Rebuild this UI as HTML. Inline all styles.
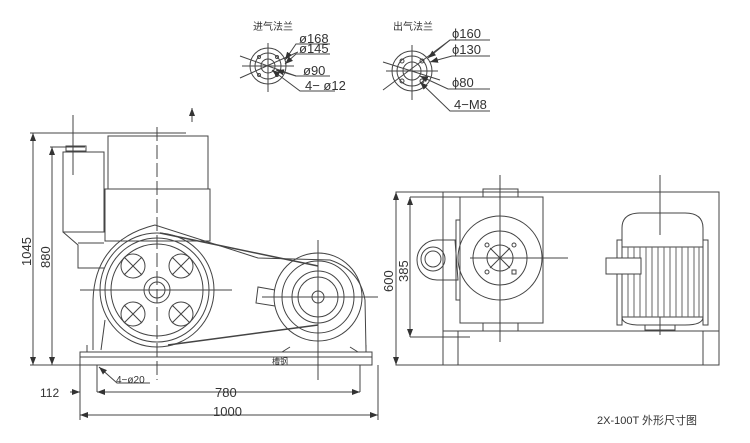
<!DOCTYPE html>
<html><head><meta charset="utf-8"><style>
html,body{margin:0;padding:0;background:#fff;width:750px;height:443px;overflow:hidden}
svg{display:block}
text{font-family:"Liberation Sans","Noto Sans CJK SC",sans-serif;fill:#333}
</style></head><body>
<svg width="750" height="443" viewBox="0 0 750 443" xmlns="http://www.w3.org/2000/svg">
<defs><marker id="a" markerWidth="8" markerHeight="6" refX="8" refY="3" orient="auto-start-reverse"><path d="M0,0 L8,3 L0,6 Z" fill="#333"/></marker></defs>
<g stroke="#444" stroke-width="1" fill="none">
<!-- inlet flange -->
<circle cx="268" cy="66" r="18"/><circle cx="268" cy="66" r="13"/><circle cx="268" cy="66" r="7"/>
<line x1="268" y1="43" x2="268" y2="92"/><line x1="242" y1="66" x2="294" y2="66"/>
<line x1="240" y1="78" x2="298" y2="52"/><line x1="240" y1="56" x2="296" y2="76"/>
<circle cx="259" cy="57" r="1.5"/><circle cx="277" cy="57" r="1.5"/><circle cx="259" cy="75" r="1.5"/><circle cx="277" cy="75" r="1.5"/>
<polyline points="330,44 296,44 285,60" marker-end="url(#a)"/><polyline points="330,54 296,54 285,64" marker-end="url(#a)"/><polyline points="330,76 296,76 276,70" marker-end="url(#a)"/><polyline points="335,91 300,91 272,70" marker-end="url(#a)"/>
<!-- outlet flange -->
<circle cx="412" cy="71" r="20"/><circle cx="412" cy="71" r="15"/><circle cx="412" cy="71" r="9"/>
<line x1="412" y1="45" x2="412" y2="100"/><line x1="386" y1="71" x2="438" y2="71"/>
<line x1="383" y1="90" x2="450" y2="40"/><line x1="383" y1="62" x2="440" y2="80"/>
<circle cx="402" cy="61" r="2"/><circle cx="422" cy="61" r="2"/><circle cx="402" cy="81" r="2"/><circle cx="422" cy="81" r="2"/>
<polyline points="490,40 450,40 428,58" marker-end="url(#a)"/><polyline points="490,56 452,56 430,62" marker-end="url(#a)"/><polyline points="490,89 448,89 420,76" marker-end="url(#a)"/><polyline points="490,111 450,111 420,82" marker-end="url(#a)"/>
<!-- left view dims -->
<line x1="30" y1="133" x2="185" y2="133"/><line x1="33" y1="133" x2="33" y2="365" marker-start="url(#a)" marker-end="url(#a)"/>
<line x1="50" y1="147" x2="85" y2="147"/><line x1="52" y1="147" x2="52" y2="365" marker-start="url(#a)" marker-end="url(#a)"/>
<line x1="30" y1="365" x2="90" y2="365"/>
<line x1="73" y1="115" x2="73" y2="175"/><line x1="192" y1="122" x2="192" y2="108" marker-end="url(#a)"/>
<!-- tank -->
<rect x="108" y="136" width="100" height="53"/><rect x="105" y="189" width="105" height="52"/>
<line x1="129" y1="133" x2="186" y2="133"/>
<rect x="63" y="152" width="41" height="80"/><rect x="66" y="146" width="20" height="5"/>
<polyline points="63,232 78,245 78,268 104,268"/><line x1="78" y1="243" x2="104" y2="243"/>
<!-- housing -->
<path d="M93,350 L93,300 Q95,240 155,225 L258,258 L330,260 Q360,270 365,300 L366,350"/>
<path d="M101,350 L105,320"/>
<!-- big pulley -->
<circle cx="157" cy="290" r="57"/><circle cx="157" cy="290" r="52"/><circle cx="157" cy="290" r="46"/>
<circle cx="157" cy="290" r="13"/><circle cx="157" cy="290" r="8"/>
<circle cx="133" cy="266" r="12"/><circle cx="181" cy="266" r="12"/><circle cx="133" cy="314" r="12"/><circle cx="181" cy="314" r="12"/>
<path d="M124,257 L142,275 M142,257 L124,275 M172,257 L190,275 M190,257 L172,275 M124,305 L142,323 M142,305 L124,323 M172,305 L190,323 M190,305 L172,323"/>
<line x1="157" y1="127" x2="157" y2="380" stroke-dasharray="14,4"/>
<line x1="80" y1="290" x2="232" y2="290"/>
<!-- belt -->
<line x1="160" y1="233" x2="318" y2="266" stroke-width="1.5"/><line x1="168" y1="345" x2="318" y2="325" stroke-width="1.5"/>
<!-- small pulley -->
<circle cx="318" cy="297" r="44"/><circle cx="318" cy="297" r="36"/><circle cx="318" cy="297" r="26"/><circle cx="318" cy="297" r="20"/><circle cx="318" cy="297" r="6"/>
<line x1="318" y1="240" x2="318" y2="380"/><line x1="262" y1="297" x2="378" y2="297"/>
<path d="M275,290 L258,287 L256,303 L275,306"/>
<path d="M290,347 L282,352 M350,347 L358,352"/>
<!-- base -->
<rect x="80" y="352" width="292" height="13"/><line x1="80" y1="357" x2="372" y2="357"/>
<line x1="87" y1="345" x2="87" y2="352"/><line x1="366" y1="345" x2="366" y2="352"/>
<line x1="97" y1="365" x2="97" y2="392"/><line x1="360" y1="365" x2="360" y2="392"/>
<line x1="80" y1="365" x2="80" y2="420"/><line x1="378" y1="365" x2="378" y2="420"/>
<line x1="70" y1="392" x2="80" y2="392" marker-end="url(#a)"/>
<line x1="97" y1="392" x2="360" y2="392" marker-start="url(#a)" marker-end="url(#a)"/>
<line x1="80" y1="415" x2="378" y2="415" marker-start="url(#a)" marker-end="url(#a)"/>
<polyline points="150,383 117,383 99,367" marker-end="url(#a)"/>
<!-- right view -->
<rect x="396" y="192" width="323" height="173"/>
<line x1="443" y1="192" x2="443" y2="365"/><line x1="458" y1="331" x2="458" y2="365"/>
<line x1="443" y1="331" x2="719" y2="331"/><line x1="703" y1="331" x2="703" y2="365"/>
<rect x="460" y="197" width="83" height="126"/>
<rect x="483" y="189" width="35" height="8"/><rect x="483" y="323" width="35" height="8"/>
<line x1="500" y1="175" x2="500" y2="342"/><line x1="470" y1="258" x2="568" y2="258"/>
<circle cx="500" cy="258" r="42"/><circle cx="500" cy="258" r="27"/><circle cx="500" cy="258" r="13"/>
<line x1="490" y1="248" x2="510" y2="268"/><line x1="510" y1="248" x2="490" y2="268"/>
<circle cx="487" cy="245" r="2"/><circle cx="514" cy="245" r="2"/><circle cx="487" cy="272" r="2"/><rect x="512" y="270" width="4" height="4"/>
<rect x="456" y="220" width="4" height="80"/>
<path d="M437,240 L455,240 L458,280 L437,280 A20,20 0 0 1 437,240 Z"/>
<circle cx="433" cy="259" r="12"/><circle cx="433" cy="259" r="8"/>
<line x1="410" y1="197" x2="470" y2="197"/><line x1="410" y1="337" x2="470" y2="337"/>
<line x1="410" y1="197" x2="410" y2="337" marker-start="url(#a)" marker-end="url(#a)"/><line x1="396" y1="192" x2="396" y2="365" marker-start="url(#a)" marker-end="url(#a)"/>
<!-- motor -->
<path d="M622,247 L622,228 Q622,213 640,213 L685,213 Q703,213 703,228 L703,247"/>
<rect x="622" y="247" width="81" height="70"/>
<path d="M622,317 Q622,325 640,325 L685,325 Q703,325 703,317"/>
<rect x="617" y="240" width="5" height="85"/><rect x="703" y="240" width="5" height="85"/>
<g stroke="#666"><line x1="628" y1="247" x2="628" y2="317"/><line x1="634" y1="247" x2="634" y2="317"/><line x1="640" y1="247" x2="640" y2="317"/><line x1="646" y1="247" x2="646" y2="317"/><line x1="652" y1="247" x2="652" y2="317"/><line x1="658" y1="247" x2="658" y2="317"/><line x1="664" y1="247" x2="664" y2="317"/><line x1="670" y1="247" x2="670" y2="317"/><line x1="676" y1="247" x2="676" y2="317"/><line x1="682" y1="247" x2="682" y2="317"/><line x1="688" y1="247" x2="688" y2="317"/><line x1="694" y1="247" x2="694" y2="317"/><line x1="699" y1="247" x2="699" y2="317"/></g>
<rect x="606" y="258" width="35" height="16" fill="#fff"/>
<line x1="660" y1="175" x2="660" y2="235"/><line x1="660" y1="317" x2="660" y2="335"/>
<rect x="645" y="325" width="30" height="5"/>
</g>
<g font-size="12" fill="#333">
<text x="-266" y="31" transform="rotate(-90)" font-size="13">1045</text>
<text x="-268" y="50" transform="rotate(-90)" font-size="13">880</text>
<text x="40" y="397">112</text>
<text x="215" y="397" font-size="13">780</text>
<text x="213" y="416" font-size="13">1000</text>
<text x="116" y="383" font-size="10">4−ø20</text>
<text x="-292" y="393" transform="rotate(-90)" font-size="13">600</text>
<text x="-282" y="408" transform="rotate(-90)" font-size="13">385</text>
<text x="299" y="43" font-size="13">ø168</text>
<text x="299" y="53" font-size="13">ø145</text>
<text x="303" y="75" font-size="13">ø90</text>
<text x="305" y="90" font-size="13">4− ø12</text>
<text x="452" y="38" font-size="13">ϕ160</text>
<text x="452" y="54" font-size="13">ϕ130</text>
<text x="452" y="87" font-size="13">ϕ80</text>
<text x="454" y="109" font-size="13">4−M8</text>
<text x="253" y="30" font-size="10">进气法兰</text>
<text x="393" y="30" font-size="10">出气法兰</text>
<text x="272" y="364" font-size="8">槽钢</text>
<text x="597" y="424" font-size="11">2X-100T 外形尺寸图</text>
</g>
</svg>
</body></html>
